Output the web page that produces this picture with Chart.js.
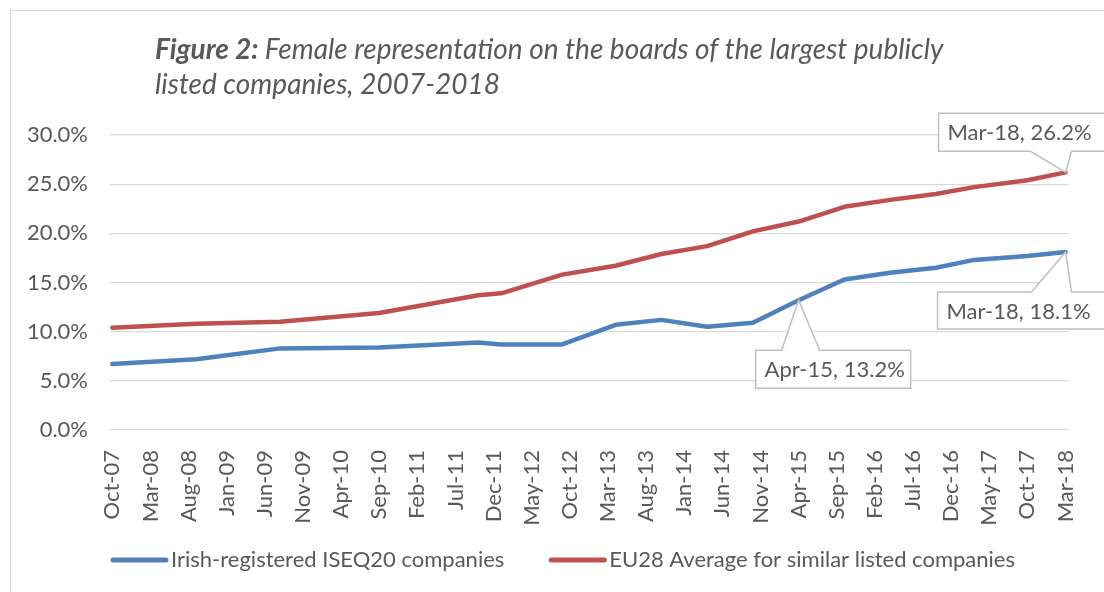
<!DOCTYPE html>
<html><head><meta charset="utf-8">
<script src="https://cdn.jsdelivr.net/npm/chart.js@4"></script>
<style>html,body{margin:0;padding:0;background:#fff}#wrap{position:relative;width:1104px;height:592px}</style>
</head><body><div id="wrap"><canvas id="c" width="1104" height="592"></canvas></div>
<script>
// ---- data ----
const titleBold = 'Figure 2:';
const titleRest1 = 'Female representation on the boards of the largest publicly';
const titleLine2 = 'listed companies, 2007-2018';
const seriesNames = ['Irish-registered ISEQ20 companies', 'EU28 Average for similar listed companies'];
const dates = ['Oct-07','Sep-08','Aug-09','Sep-10','Oct-11','Jan-12','Sep-12','Apr-13','Oct-13','Apr-14','Oct-14','Apr-15','Oct-15','Apr-16','Oct-16','Mar-17','Oct-17','Mar-18'];
const irish = [6.7, 7.2, 8.3, 8.4, 8.9, 8.7, 8.7, 10.7, 11.2, 10.5, 10.9, 13.2, 15.3, 16.0, 16.5, 17.3, 17.7, 18.1];
const eu    = [10.4, 10.8, 11.0, 11.9, 13.7, 13.9, 15.8, 16.7, 17.9, 18.7, 20.2, 21.2, 22.7, 23.4, 24.0, 24.7, 25.4, 26.2];
const tickLabels = ['Oct-07','Mar-08','Aug-08','Jan-09','Jun-09','Nov-09','Apr-10','Sep-10','Feb-11','Jul-11','Dec-11','May-12','Oct-12','Mar-13','Aug-13','Jan-14','Jun-14','Nov-14','Apr-15','Sep-15','Feb-16','Jul-16','Dec-16','May-17','Oct-17','Mar-18'];
const yTicks = [0, 5, 10, 15, 20, 25, 30];
// callouts: [datasetIndex, dateLabel]
const callouts = [[0,'Apr-15'],[0,'Mar-18'],[1,'Mar-18']];

// ---- helpers ----
const MONTHS = ['Jan','Feb','Mar','Apr','May','Jun','Jul','Aug','Sep','Oct','Nov','Dec'];
const base = 2007*12 + 9;
function monthOffset(lbl){ const [m,y] = lbl.split('-'); return (2000+parseInt(y,10))*12 + MONTHS.indexOf(m) - base; }
const pts = arr => arr.map((v,i)=>({x: monthOffset(dates[i]), y: v}));

const FONT = 'Lato, "Open Sans", sans-serif';
const GREY = '#595959';
const COLORS = ['#4f81bd', '#c0504d'];
const FS = 22;

const deco = {
  id: 'deco',
  beforeDraw(chart){
    const ctx = chart.ctx; ctx.save();
    ctx.fillStyle = '#fff'; ctx.fillRect(0,0,chart.width,chart.height);
    ctx.strokeStyle = '#d9d9d9'; ctx.lineWidth = 1;
    ctx.beginPath(); ctx.moveTo(10.5, chart.height); ctx.lineTo(10.5, 10.5); ctx.lineTo(chart.width, 10.5); ctx.stroke();
    ctx.fillStyle = GREY; ctx.textBaseline = 'alphabetic'; ctx.textAlign = 'left';
    ctx.font = 'italic bold 28px ' + FONT; ctx.fillText(titleBold, 155, 59);
    const w = ctx.measureText(titleBold + ' ').width;
    ctx.font = 'italic 28px ' + FONT; ctx.fillText(titleRest1, 155 + w, 59);
    ctx.fillText(titleLine2, 155, 94);
    ctx.restore();
  },
  afterDatasetsDraw(chart){
    const ctx = chart.ctx; ctx.save();
    callouts.forEach(([di, lbl]) => {
      const idx = dates.indexOf(lbl);
      const el = chart.getDatasetMeta(di).data[idx];
      const ax = el.x, ay = el.y;
      const val = chart.data.datasets[di].data[idx].y;
      let l, r, t, b, x1, x2, side;
      if (lbl === 'Apr-15') { l = ax-43; r = ax+112; t = ay+50; b = ay+88; x1 = ax-17; x2 = ax+21; side = 'top'; }
      else if (di === 0) { l = ax-128; r = ax+60; t = ay+40; b = ay+77; x1 = ax-34; x2 = ax+6; side = 'top'; }
      else { l = ax-127; r = ax+60; t = ay-59; b = ay-21; x1 = ax-35; x2 = ax+6; side = 'bottom'; }
      ctx.beginPath();
      if (side === 'top') {
        ctx.moveTo(l,t); ctx.lineTo(x1,t); ctx.lineTo(ax,ay); ctx.lineTo(x2,t); ctx.lineTo(r,t); ctx.lineTo(r,b); ctx.lineTo(l,b); ctx.closePath();
      } else {
        ctx.moveTo(l,t); ctx.lineTo(r,t); ctx.lineTo(r,b); ctx.lineTo(x2,b); ctx.lineTo(ax,ay); ctx.lineTo(x1,b); ctx.lineTo(l,b); ctx.closePath();
      }
      ctx.fillStyle = '#fff'; ctx.fill();
      ctx.strokeStyle = '#bfbfbf'; ctx.lineWidth = 1.5; ctx.stroke();
      ctx.fillStyle = GREY; ctx.font = FS + 'px ' + FONT; ctx.textBaseline = 'middle'; ctx.textAlign = 'left';
      ctx.fillText(lbl + ', ' + val.toFixed(1) + '%', l + 9, (t+b)/2 + 1);
    });
    ctx.restore();
  },
  afterDraw(chart){
    const ctx = chart.ctx; ctx.save();
    ctx.font = FS + 'px ' + FONT; ctx.textBaseline = 'middle'; ctx.textAlign = 'left';
    let x = 111; const y = 560;
    chart.data.datasets.forEach(ds => {
      ctx.strokeStyle = ds.borderColor; ctx.lineWidth = 5; ctx.lineCap = 'round';
      ctx.beginPath(); ctx.moveTo(x+2, y); ctx.lineTo(x+55, y); ctx.stroke();
      ctx.fillStyle = GREY; ctx.fillText(ds.label, x + 60, y);
      x += 60 + ctx.measureText(ds.label).width + 45;
    });
    ctx.restore();
  }
};

new Chart(document.getElementById('c'), {
  type: 'line',
  data: {
    datasets: [
      { label: seriesNames[0], data: pts(irish), borderColor: COLORS[0], backgroundColor: COLORS[0] },
      { label: seriesNames[1], data: pts(eu), borderColor: COLORS[1], backgroundColor: COLORS[1] }
    ]
  },
  options: {
    responsive: false, animation: false, devicePixelRatio: 1,
    layout: { padding: { top: 135, left: 10, right: 24, bottom: 0 } },
    elements: {
      line: { borderWidth: 4.5, tension: 0, borderCapStyle: 'round', borderJoinStyle: 'round' },
      point: { radius: 0, hoverRadius: 0 }
    },
    plugins: { legend: { display: false }, title: { display: false }, tooltip: { enabled: false } },
    scales: {
      x: {
        type: 'linear', min: -0.3, max: 125.4,
        afterBuildTicks: s => { s.ticks = tickLabels.map((_, i) => ({ value: i*5 })); },
        afterFit: s => { s.height = 162; },
        grid: { display: false }, border: { display: false },
        ticks: { autoSkip: false, minRotation: 90, maxRotation: 90, padding: 12, color: GREY, font: { family: FONT, size: FS },
          callback: v => tickLabels[Math.round(v/5)] }
      },
      y: {
        min: 0, max: 30,
        afterBuildTicks: s => { s.ticks = yTicks.map(v => ({ value: v })); },
        afterFit: s => { s.width = 100; },
        grid: { color: '#d9d9d9', lineWidth: 1.3, drawTicks: false }, border: { display: false },
        ticks: { padding: 22, color: GREY, font: { family: FONT, size: FS }, callback: v => v.toFixed(1) + '%' }
      }
    }
  },
  plugins: [deco]
});
</script></body></html>
